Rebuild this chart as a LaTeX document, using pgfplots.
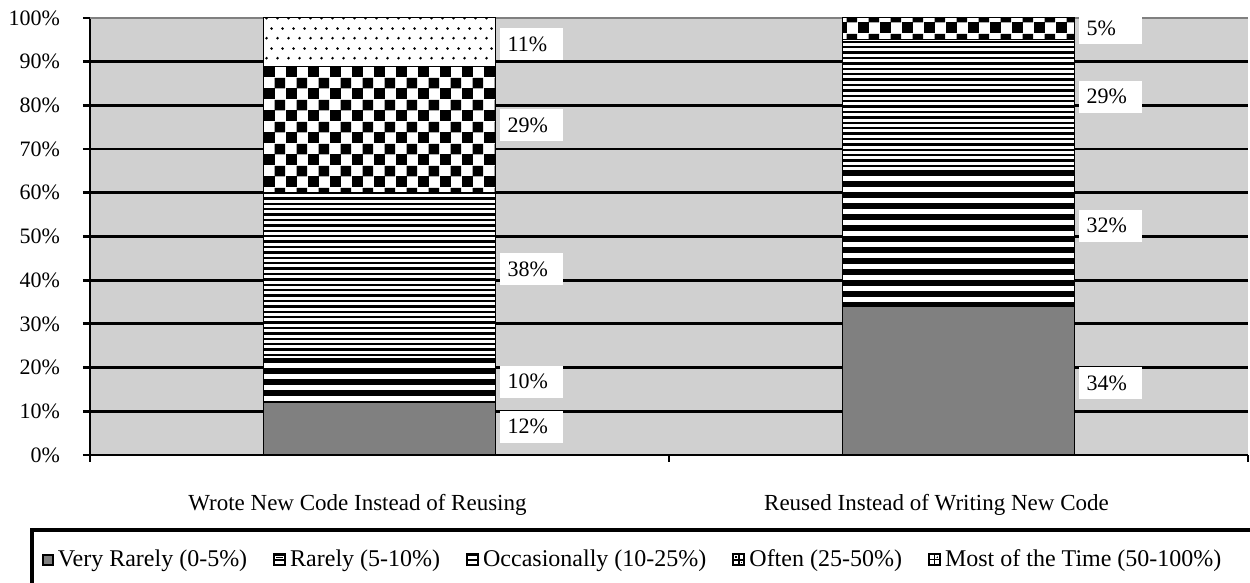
\documentclass[border=0pt]{standalone}
\usepackage{pgfplots}
\pgfplotsset{compat=1.18}
\usepackage{fontspec}
\setmainfont{Liberation Serif}
\usetikzlibrary{patterns}
\definecolor{bggray}{RGB}{208,208,208}
\definecolor{bargray}{RGB}{128,128,128}
\pgfdeclarepatternformonly{thickstripes}{\pgfqpoint{0pt}{0pt}}{\pgfqpoint{40pt}{5.5pt}}{\pgfqpoint{39pt}{5.5pt}}{%
  \pgfpathrectangle{\pgfqpoint{0pt}{0pt}}{\pgfqpoint{40pt}{3pt}}\pgfusepath{fill}}
\pgfdeclarepatternformonly{thinstripes}{\pgfqpoint{0pt}{0pt}}{\pgfqpoint{40pt}{2.7pt}}{\pgfqpoint{39pt}{2.7pt}}{%
  \pgfpathrectangle{\pgfqpoint{0pt}{0pt}}{\pgfqpoint{40pt}{1.2pt}}\pgfusepath{fill}}
\pgfdeclarepatternformonly{checker}{\pgfqpoint{0pt}{0pt}}{\pgfqpoint{11pt}{11pt}}{\pgfqpoint{11pt}{11pt}}{%
  \pgfpathrectangle{\pgfqpoint{0pt}{0pt}}{\pgfqpoint{5.7pt}{5.7pt}}%
  \pgfpathrectangle{\pgfqpoint{5.5pt}{5.5pt}}{\pgfqpoint{5.5pt}{5.5pt}}\pgfusepath{fill}}
\pgfdeclarepatternformonly{sparsedots}{\pgfqpoint{0pt}{0pt}}{\pgfqpoint{5.5pt}{10pt}}{\pgfqpoint{5.5pt}{10pt}}{%
  \pgfpathcircle{\pgfqpoint{1.375pt}{2.5pt}}{0.75pt}%
  \pgfpathcircle{\pgfqpoint{4.125pt}{7.5pt}}{0.75pt}\pgfusepath{fill}}
\pgfplotsset{
  legvr/.style={legend image code/.code={\draw[fill=bargray, draw=black, line width=1pt] (0.5pt,-2.5pt) rectangle (5.5pt,2.5pt);}},
  legstripe/.style={legend image code/.code={\fill[black] (0pt,-3pt) rectangle (6pt,3pt);
     \fill[white] (1pt,-1.7pt) rectangle (5pt,-0.6pt); \fill[white] (1pt,0.6pt) rectangle (5pt,1.7pt);}},
  legoften/.style={legend image code/.code={\fill[black] (0pt,-3pt) rectangle (6pt,3pt);
     \fill[white] (1pt,-2pt) rectangle (2.3pt,-0.7pt); \fill[white] (3.7pt,-2pt) rectangle (5pt,-0.7pt);
     \fill[white] (1pt,0.7pt) rectangle (2.3pt,2pt); \fill[white] (3.7pt,0.7pt) rectangle (5pt,2pt);}},
  legmost/.style={legend image code/.code={\fill[black] (0pt,-3pt) rectangle (6pt,3pt);
     \fill[white] (1pt,-2pt) rectangle (2.5pt,-0.5pt); \fill[white] (3.5pt,-2pt) rectangle (5pt,-0.5pt);
     \fill[white] (1pt,0.5pt) rectangle (2.5pt,2pt); \fill[white] (3.5pt,0.5pt) rectangle (5pt,2pt);
     \fill[black] (2.8pt,-1.5pt) rectangle (3.2pt,1.5pt);}},
}
\pgfplotstableread{
x  vr  r  occ  often  most
0  12  10 38   29     11
1  34  32 29   5      0
}\datatable
\begin{document}
\begin{tikzpicture}
\path[use as bounding box] (0,0) rectangle (625pt,291.5pt);
\begin{axis}[
  at={(45pt,64pt)}, anchor=south west,
  scale only axis, width=579pt, height=218.5pt,
  ybar stacked, bar width=0.4,
  xmin=-0.5, xmax=1.5, ymin=0, ymax=100,
  axis x line*=bottom, axis y line*=left,
  axis line style={line width=1.4pt, black},
  axis background/.style={fill=bggray},
  ytick={0,10,...,90},
  yticklabels={0\%,10\%,20\%,30\%,40\%,50\%,60\%,70\%,80\%,90\%},
  extra y ticks={100}, extra y tick labels={100\%},
  extra y tick style={major grid style={line width=1.4pt, draw=bargray}},
  ymajorgrids, major grid style={line width=1.4pt, draw=black},
  tick align=outside, major tick length=3.5pt,
  tick style={line width=1.4pt, black},
  yticklabel style={xshift=-8pt, font=\fontsize{11}{13}\selectfont},
  xtick={-0.5,0.5,1.5}, xticklabels={},
  extra x ticks={0,1},
  extra x tick labels={Wrote New Code Instead of Reusing, Reused Instead of Writing New Code},
  extra x tick style={major tick length=0pt, xticklabel style={yshift=-16pt, xshift=-11pt, font=\fontsize{11.5}{14}\selectfont}},
  legend columns=5,
  legend style={draw=none, fill=none, at={(-0.047,-0.240)}, anchor=west,
    font=\fontsize{12}{14}\selectfont,
    /tikz/every even column/.append style={column sep=11pt},
    /tikz/every odd column/.append style={column sep=0pt}},
]
\addplot[fill=bargray, draw=black, line width=0.5pt, legvr] table[x=x, y=vr] {\datatable};
\addlegendentry{Very Rarely (0-5\%)}
\addplot[fill=white, draw=black, line width=0.5pt, postaction={pattern=thickstripes}, legstripe] table[x=x, y=r] {\datatable};
\addlegendentry{Rarely (5-10\%)}
\addplot[fill=white, draw=black, line width=0.5pt, postaction={pattern=thinstripes}, legstripe] table[x=x, y=occ] {\datatable};
\addlegendentry{Occasionally (10-25\%)}
\addplot[fill=white, draw=black, line width=0.5pt, postaction={pattern=checker}, legoften] table[x=x, y=often] {\datatable};
\addlegendentry{Often (25-50\%)}
\addplot[fill=white, draw=black, line width=0.5pt, postaction={pattern=sparsedots}, legmost] table[x=x, y=most] {\datatable};
\addlegendentry{Most of the Time (50-100\%)}
\end{axis}
\begin{axis}[
  at={(45pt,64pt)}, anchor=south west,
  scale only axis, width=579pt, height=218.5pt,
  xmin=-0.5, xmax=1.5, ymin=0, ymax=100,
  hide axis, clip=false,
  /pgf/number format/assume math mode=true,
]
\addplot[draw=none, mark=none, point meta=explicit,
  nodes near coords={\pgfmathprintnumber{\pgfplotspointmeta}\%},
  nodes near coords style={anchor=west, fill=white, text=black, inner xsep=4pt,
    text width=23.5pt, minimum height=16pt, align=left, xshift=2pt,
    font=\fontsize{11}{13}\selectfont}]
  table[x=x, y=y, meta=v] {
x    y     v
0.2  6.5   12
0.2  16.8  10
0.2  42.5  38
0.2  75.5  29
0.2  94    11
1.2  16.5  34
1.2  52.5  32
1.2  82    29
1.2  97.7  5
};
\end{axis}
\draw[line width=1.6pt] (16pt,-10pt) -- (16pt,26.5pt) -- (700pt,26.5pt);
\end{tikzpicture}
\end{document}
